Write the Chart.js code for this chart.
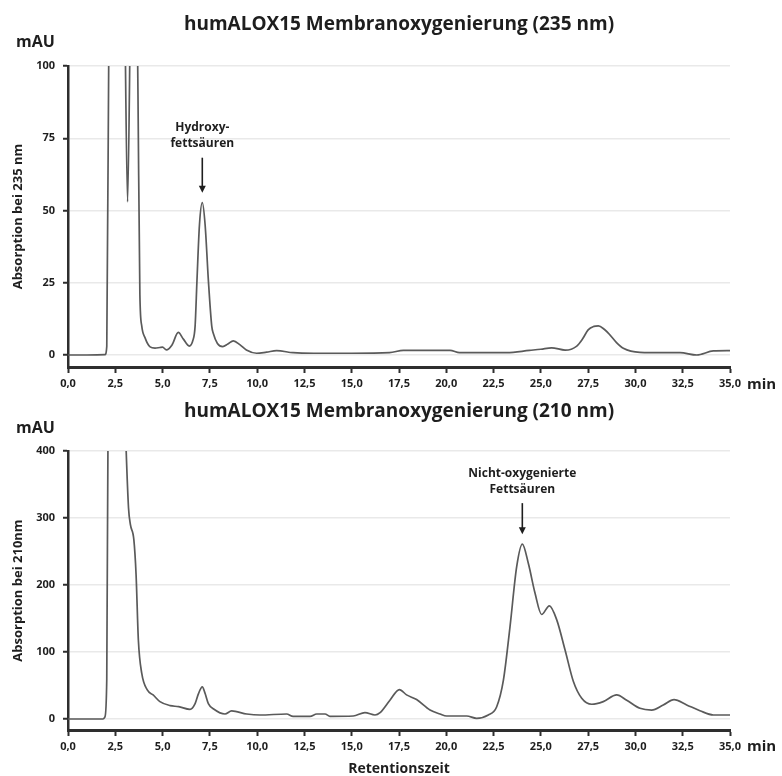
<!DOCTYPE html>
<html><head><meta charset="utf-8">
<script src="https://cdn.jsdelivr.net/npm/chart.js@4.4.1/dist/chart.umd.min.js"></script>
<style>
html,body{margin:0;padding:0;background:#fff;}
#wrap{position:relative;width:782px;height:776px;background:#fff;}
canvas{position:absolute;left:0;}
</style></head><body>
<div id="wrap">
<canvas id="top" width="782" height="395" style="top:0"></canvas>
<canvas id="bot" width="782" height="381" style="top:395px"></canvas>
</div>
<script>
// ---------- DATA ----------
const xTickValues = [0,2.5,5,7.5,10,12.5,15,17.5,20,22.5,25,27.5,30,32.5,35];
const yTicksTop = [0,25,50,75,100];
const yTicksBottom = [0,100,200,300,400];

const timeTop = [0,1.0,1.95,2.05,2.18,2.5,2.85,2.98,3.15,3.32,3.45,3.6,3.7,3.8,3.9,4.07,4.34,4.6,4.86,5.0,5.2,5.5,5.83,6.1,6.41,6.6,6.72,6.82,6.95,7.1,7.25,7.42,7.6,7.68,7.9,8.18,8.45,8.74,9.1,9.43,9.97,10.5,11.03,11.9,13.0,15.0,17.0,17.73,19.0,20.2,20.7,22.0,23.2,24.4,25.0,25.57,26.28,26.9,27.2,27.5,27.8,28.04,28.35,28.66,29.0,29.36,30.24,31.5,32.36,33.24,34.12,35];
const absTop235 = [0,0,0.1,3,130,180,160,130,53,130,170,150,90,21,10,6,2.8,2.4,2.6,2.7,1.8,3.5,7.8,5.5,3.1,5,10,26,45,52.7,45,26,10,7.5,4.0,2.9,3.8,4.9,3.5,1.7,0.6,1.0,1.5,0.8,0.6,0.6,0.8,1.6,1.6,1.6,0.8,0.8,0.8,1.6,2.0,2.5,1.7,3.1,5.5,8.7,9.9,10.1,8.9,6.9,4.3,2.3,0.9,0.8,0.8,0,1.4,1.5];

const timeBottom = [0,1.0,1.85,1.95,2.05,2.12,2.6,3.0,3.07,3.2,3.3,3.48,3.6,3.72,3.9,4.2,4.5,4.86,5.4,5.85,6.45,6.72,6.9,7.1,7.25,7.42,7.7,8.3,8.65,9.45,10.15,11.56,11.9,12.8,13.15,13.59,13.85,15.08,15.7,16.23,16.5,17.02,17.52,17.9,18.43,19.14,19.67,20.02,21.08,21.6,22.22,22.66,23.02,23.37,23.72,24.02,24.34,24.69,25.04,25.45,25.84,26.28,26.72,27.16,27.69,28.3,29.01,29.54,30.24,30.86,31.47,32.04,32.71,33.41,34.12,35];
const absBottom210 = [0,0,0,3,60,450,620,470,405,315,290,268,215,118,68,43,36,26,20,18.5,14.4,23,38,48,38,23,15,7.5,12,7.5,6,7.5,4,4,7.5,7.5,4,4.5,9.5,6,9.5,28,44,36,29,13.4,7.5,4.5,4.5,1,6,18,58,138,227,261,232,188,156,169,148,103,56,31,22,26,36,28,16,13.4,21,29,21,12.4,6,6];

const titleTop = "humALOX15 Membranoxygenierung (235 nm)";
const titleBottom = "humALOX15 Membranoxygenierung (210 nm)";
const yTitleTop = "Absorption bei 235 nm";
const yTitleBottom = "Absorption bei 210nm";
const xTitleBottom = "Retentionszeit";
const annTop = {x: 7.1, y: 52.7, lines: ["Hydroxy-", "fettsäuren"]};
const annBottom = {x: 24.02, y: 261, lines: ["Nicht-oxygenierte", "Fettsäuren"]};

// ---------- DRAWING ----------
const FONT = "'Open Sans', sans-serif";
const DARK = "#1e1e1e";
const AXIS = "#2e2e2e";

function toPts(xs, ys){ return xs.map((x,i)=>({x:x, y:ys[i]})); }

function makeChart(id, o){
  const deco = {
    id: 'deco'+id,
    afterDraw(chart){
      const ctx = chart.ctx, ca = chart.chartArea;
      const xs = chart.scales.x, ys = chart.scales.y;
      ctx.save();
      ctx.fillStyle = DARK;
      ctx.textBaseline = 'middle';
      // title
      ctx.font = "bold 19px " + FONT;
      ctx.textAlign = 'center';
      ctx.fillText(o.title, (ca.left+ca.right)/2, o.titleY);
      // mAU
      ctx.font = "bold 16px " + FONT;
      ctx.textAlign = 'left';
      ctx.fillText("mAU", 16, o.mauY);
      // min
      ctx.font = "bold 15px " + FONT;
      ctx.fillText("min", 747, o.minY);
      // annotation
      const px = xs.getPixelForValue(o.ann.x);
      const py = ys.getPixelForValue(o.ann.y);
      const tip = py - 10;
      const top = tip - o.arrowLen;
      ctx.font = "bold 12px " + FONT;
      ctx.textAlign = 'center';
      ctx.fillText(o.ann.lines[0], px, top - 30);
      ctx.fillText(o.ann.lines[1], px, top - 14);
      ctx.strokeStyle = DARK; ctx.lineWidth = 1.6;
      ctx.beginPath(); ctx.moveTo(px, top); ctx.lineTo(px, tip-6); ctx.stroke();
      ctx.beginPath(); ctx.moveTo(px-3.5, tip-7); ctx.lineTo(px+3.5, tip-7); ctx.lineTo(px, tip); ctx.closePath(); ctx.fill();
      ctx.restore();
    }
  };
  return new Chart(document.getElementById(id), {
    type: 'line',
    data: { datasets: [{ data: toPts(o.t, o.v), borderColor: '#5a5a5a', borderWidth: 1.7,
      pointRadius: 0, cubicInterpolationMode: 'monotone', fill: false }] },
    options: {
      responsive: false, animation: false, devicePixelRatio: 1,
      layout: { padding: { top: o.padTop, right: 52, left: 0, bottom: 0 } },
      plugins: { legend: { display: false }, tooltip: { enabled: false }, title: { display: false } },
      scales: {
        x: {
          type: 'linear', min: 0, max: 35,
          afterBuildTicks: s => { s.ticks = xTickValues.map(v => ({value: v})); },
          afterFit: s => { s.height = o.xHeight; },
          border: { display: true, color: AXIS, width: 3 },
          grid: { drawOnChartArea: false, drawTicks: true, tickLength: 6, tickWidth: 2, tickColor: AXIS },
          ticks: { autoSkip: false, maxRotation: 0, padding: 4, color: DARK,
            font: { family: FONT, weight: 'bold', size: 11 },
            callback: v => Number(v).toFixed(1).replace('.', ',') },
          title: { display: !!o.xTitle, text: o.xTitle || '', color: DARK,
            font: { family: FONT, weight: 'bold', size: 14, lineHeight: 1 }, padding: { top: 0, bottom: 0 } }
        },
        y: {
          type: 'linear', min: o.yMin, max: o.yMax,
          afterBuildTicks: s => { s.ticks = o.yTicks.map(v => ({value: v})); },
          afterFit: s => { s.width = 68; },
          border: { display: true, color: AXIS, width: 2.5 },
          grid: { color: '#e9e9e9', lineWidth: 1.5, drawTicks: true, tickLength: 5, tickWidth: 2, tickColor: AXIS },
          ticks: { padding: 8, color: DARK, font: { family: FONT, weight: 'bold', size: 11 } },
          title: { display: true, text: o.yTitle, color: DARK,
            font: { family: FONT, weight: 'bold', size: 13, lineHeight: 1 }, padding: { top: 12, bottom: 0 } }
        }
      }
    },
    plugins: [deco]
  });
}

makeChart('top', { t: timeTop, v: absTop235, yMin: -4.15, yMax: 100, yTicks: yTicksTop,
  padTop: 66, xHeight: 28, title: titleTop, titleY: 25, mauY: 42, minY: 385,
  yTitle: yTitleTop, ann: annTop, arrowLen: 35 });
makeChart('bot', { t: timeBottom, v: absBottom210, yMin: -16.4, yMax: 400, yTicks: yTicksBottom,
  padTop: 56, xHeight: 46, title: titleBottom, titleY: 17, mauY: 33, minY: 352,
  yTitle: yTitleBottom, xTitle: xTitleBottom, ann: annBottom, arrowLen: 31 });
</script>
</body></html>
